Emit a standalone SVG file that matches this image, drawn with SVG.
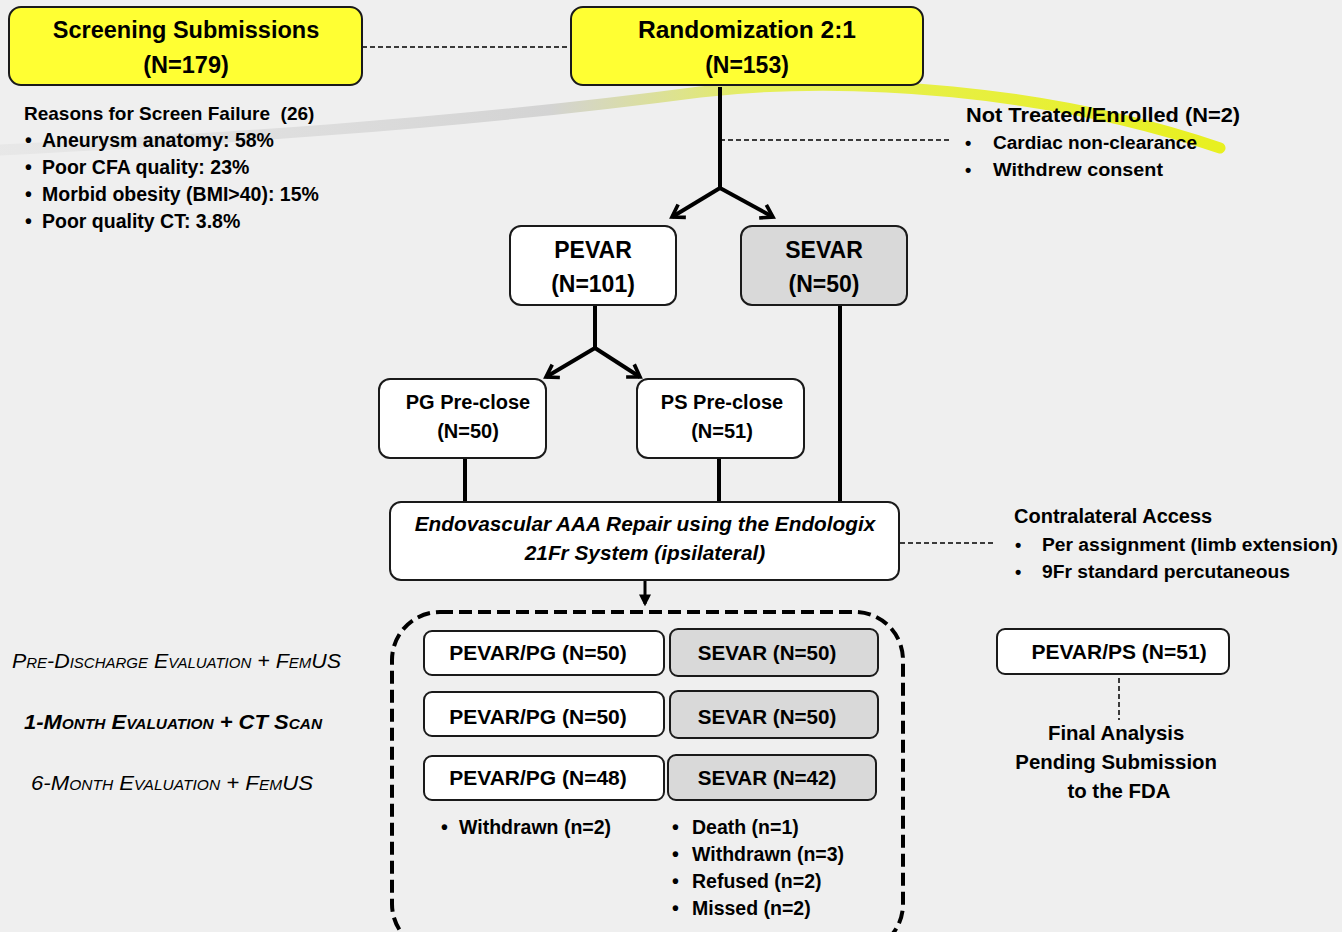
<svg xmlns="http://www.w3.org/2000/svg" width="1342" height="932" viewBox="0 0 1342 932">
<style>
.t{font-family:"Liberation Sans",Arial,sans-serif;fill:#000;}
.b{font-weight:bold;}
.box{stroke:#1a1a1a;stroke-width:2;}
.y{fill:#ffff33;}
.w{fill:#ffffff;}
.g{fill:#d9d9d9;}
.ln{stroke:#000;stroke-width:4;fill:none;}
.dash{stroke:#000;stroke-width:1.5;fill:none;stroke-dasharray:5,3;}
.sc{font-style:italic;font-variant:small-caps;}
</style>
<defs>
<marker id="chev" viewBox="0 0 12 12" refX="9" refY="6" markerWidth="5" markerHeight="5" orient="auto" markerUnits="strokeWidth">
<polyline points="2,1.5 9,6 2,10.5" fill="none" stroke="#000" stroke-width="2.2"/>
</marker>
<marker id="tri" viewBox="0 0 10 10" refX="8" refY="5" markerWidth="4" markerHeight="4" orient="auto" markerUnits="strokeWidth">
<path d="M0,0 L10,5 L0,10 z" fill="#000"/>
</marker>
<linearGradient id="sw" x1="0" y1="0" x2="1" y2="0">
<stop offset="0" stop-color="#d6d6d6" stop-opacity="0.3"/>
<stop offset="0.45" stop-color="#cccccc" stop-opacity="0.8"/>
<stop offset="0.62" stop-color="#e6ef5a"/>
<stop offset="1" stop-color="#e8f020"/>
</linearGradient>
</defs>
<rect width="1342" height="932" fill="#efefef"/>
<path d="M0,150 C200,140 450,125 700,92 C850,75 1050,90 1220,148" fill="none" stroke="url(#sw)" stroke-width="11" stroke-linecap="round"/>

<g id="connectors">
<line class="dash" x1="362" y1="47" x2="571" y2="47"/>
<line class="ln" x1="720" y1="87" x2="720" y2="188"/>
<line class="ln" x1="720" y1="188" x2="672" y2="217" marker-end="url(#chev)"/>
<line class="ln" x1="720" y1="188" x2="773" y2="217" marker-end="url(#chev)"/>
<line class="dash" x1="720" y1="140" x2="952" y2="140"/>
<line class="ln" x1="595" y1="306" x2="595" y2="348"/>
<line class="ln" x1="595" y1="348" x2="546" y2="377" marker-end="url(#chev)"/>
<line class="ln" x1="595" y1="348" x2="640" y2="377" marker-end="url(#chev)"/>
<line class="ln" x1="840" y1="306" x2="840" y2="502"/>
<line class="ln" x1="465" y1="459" x2="465" y2="502"/>
<line class="ln" x1="719" y1="459" x2="719" y2="502"/>
<line class="dash" x1="900" y1="543" x2="995" y2="543"/>
<line x1="645" y1="581" x2="645" y2="604" stroke="#000" stroke-width="3" marker-end="url(#tri)"/>
<line class="dash" x1="1119" y1="678" x2="1119" y2="720"/>
</g>

<g id="screening">
<rect class="box y" x="9" y="7" width="353" height="78" rx="12"/>
<text class="t b" x="186" y="38" font-size="23.5" text-anchor="middle">Screening Submissions</text>
<text class="t b" x="186" y="73" font-size="23.5" text-anchor="middle">(N=179)</text>
</g>
<g id="randomization">
<rect class="box y" x="571" y="7" width="352" height="78" rx="12"/>
<text class="t b" x="747" y="38" font-size="23" text-anchor="middle" textLength="218" lengthAdjust="spacingAndGlyphs">Randomization 2:1</text>
<text class="t b" x="747" y="73" font-size="23" text-anchor="middle">(N=153)</text>
</g>
<g id="screen-failure">
<text class="t" x="24" y="120" font-size="19" font-weight="600" style="white-space:pre">Reasons for Screen Failure  (26)</text>
<text class="t b" font-size="19.5">
<tspan x="25" y="147">•</tspan><tspan x="42" y="147">Aneurysm anatomy: 58%</tspan>
<tspan x="25" y="174">•</tspan><tspan x="42" y="174">Poor CFA quality: 23%</tspan>
<tspan x="25" y="201">•</tspan><tspan x="42" y="201">Morbid obesity (BMI&gt;40): 15%</tspan>
<tspan x="25" y="228">•</tspan><tspan x="42" y="228">Poor quality CT: 3.8%</tspan>
</text>
</g>
<g id="not-treated">
<text class="t" x="966" y="122" font-size="20" font-weight="600" textLength="274" lengthAdjust="spacingAndGlyphs">Not Treated/Enrolled (N=2)</text>
<text class="t b" font-size="18">
<tspan x="965" y="149">•</tspan><tspan x="993" y="149" textLength="204" lengthAdjust="spacingAndGlyphs">Cardiac non-clearance</tspan>
<tspan x="965" y="176">•</tspan><tspan x="993" y="176" textLength="170" lengthAdjust="spacingAndGlyphs">Withdrew consent</tspan>
</text>
</g>
<g id="pevar">
<rect class="box w" x="510" y="226" width="166" height="79" rx="11"/>
<text class="t b" x="593" y="258" font-size="23" text-anchor="middle">PEVAR</text>
<text class="t b" x="593" y="292" font-size="23" text-anchor="middle">(N=101)</text>
</g>
<g id="sevar">
<rect class="box g" x="741" y="226" width="166" height="79" rx="11"/>
<text class="t b" x="824" y="258" font-size="23" text-anchor="middle">SEVAR</text>
<text class="t b" x="824" y="292" font-size="23" text-anchor="middle">(N=50)</text>
</g>
<g id="pg-preclose">
<rect class="box w" x="379" y="379" width="167" height="79" rx="11"/>
<text class="t b" x="468" y="409" font-size="20" text-anchor="middle">PG Pre-close</text>
<text class="t b" x="468" y="438" font-size="20" text-anchor="middle">(N=50)</text>
</g>
<g id="ps-preclose">
<rect class="box w" x="637" y="379" width="167" height="79" rx="11"/>
<text class="t b" x="722" y="409" font-size="20" text-anchor="middle">PS Pre-close</text>
<text class="t b" x="722" y="438" font-size="20" text-anchor="middle">(N=51)</text>
</g>
<g id="endovascular">
<rect class="box w" x="390" y="502" width="509" height="78" rx="11"/>
<text class="t b" x="645" y="531" font-size="20.8" font-style="italic" text-anchor="middle">Endovascular AAA Repair using the Endologix</text>
<text class="t b" x="645" y="560" font-size="20.8" font-style="italic" text-anchor="middle">21Fr System (ipsilateral)</text>
</g>
<g id="contralateral">
<text class="t" x="1014" y="523" font-size="20" font-weight="600">Contralateral Access</text>
<text class="t b" font-size="18">
<tspan x="1015" y="551">•</tspan><tspan x="1042" y="551" textLength="296" lengthAdjust="spacingAndGlyphs">Per assignment (limb extension)</tspan>
<tspan x="1015" y="578">•</tspan><tspan x="1042" y="578" textLength="248" lengthAdjust="spacingAndGlyphs">9Fr standard percutaneous</tspan>
</text>
</g>
<g id="timepoint-labels">
<text class="t sc" x="12" y="668" font-size="20" textLength="329" lengthAdjust="spacingAndGlyphs">Pre-Discharge Evaluation + FemUS</text>
<text class="t sc b" x="24" y="729" font-size="20" textLength="298" lengthAdjust="spacingAndGlyphs">1-Month Evaluation + CT Scan</text>
<text class="t sc" x="31" y="790" font-size="20" textLength="282" lengthAdjust="spacingAndGlyphs">6-Month Evaluation + FemUS</text>
</g>
<g id="followup">
<rect x="392" y="612" width="511" height="340" rx="48" fill="none" stroke="#000" stroke-width="4" stroke-dasharray="13,6"/>
</g>
<g id="pevar-pg-1">
<rect class="box w" x="424" y="631" width="240" height="44" rx="8"/>
<text class="t b" x="538" y="660" font-size="21" text-anchor="middle">PEVAR/PG (N=50)</text>
</g>
<g id="sevar-1">
<rect class="box g" x="670" y="629" width="208" height="47" rx="8"/>
<text class="t b" x="767" y="660" font-size="20.6" text-anchor="middle">SEVAR (N=50)</text>
</g>
<g id="pevar-pg-2">
<rect class="box w" x="424" y="692" width="240" height="44" rx="8"/>
<text class="t b" x="538" y="724" font-size="21" text-anchor="middle">PEVAR/PG (N=50)</text>
</g>
<g id="sevar-2">
<rect class="box g" x="670" y="691" width="208" height="47" rx="8"/>
<text class="t b" x="767" y="724" font-size="20.6" text-anchor="middle">SEVAR (N=50)</text>
</g>
<g id="pevar-pg-3">
<rect class="box w" x="424" y="756" width="240" height="44" rx="8"/>
<text class="t b" x="538" y="785" font-size="21" text-anchor="middle">PEVAR/PG (N=48)</text>
</g>
<g id="sevar-3">
<rect class="box g" x="668" y="755" width="208" height="45" rx="8"/>
<text class="t b" x="767" y="785" font-size="20.6" text-anchor="middle">SEVAR (N=42)</text>
</g>
<g id="pg-losses">
<text class="t b" font-size="19.5"><tspan x="441" y="834">•</tspan><tspan x="459" y="834">Withdrawn (n=2)</tspan></text>
</g>
<g id="sevar-losses">
<text class="t b" font-size="19.5">
<tspan x="672" y="834">•</tspan><tspan x="692" y="834">Death (n=1)</tspan>
<tspan x="672" y="861">•</tspan><tspan x="692" y="861">Withdrawn (n=3)</tspan>
<tspan x="672" y="888">•</tspan><tspan x="692" y="888">Refused (n=2)</tspan>
<tspan x="672" y="915">•</tspan><tspan x="692" y="915">Missed (n=2)</tspan>
</text>
</g>
<g id="pevar-ps">
<rect class="box w" x="997" y="629" width="232" height="45" rx="8"/>
<text class="t b" x="1119" y="659" font-size="21" text-anchor="middle">PEVAR/PS (N=51)</text>
</g>
<g id="final-analysis">
<text class="t b" font-size="20.4" text-anchor="middle">
<tspan x="1119" y="740">Final Analysis</tspan>
<tspan x="1119" y="769">Pending Submission</tspan>
<tspan x="1119" y="798">to the FDA</tspan>
</text>
</g>
</svg>
